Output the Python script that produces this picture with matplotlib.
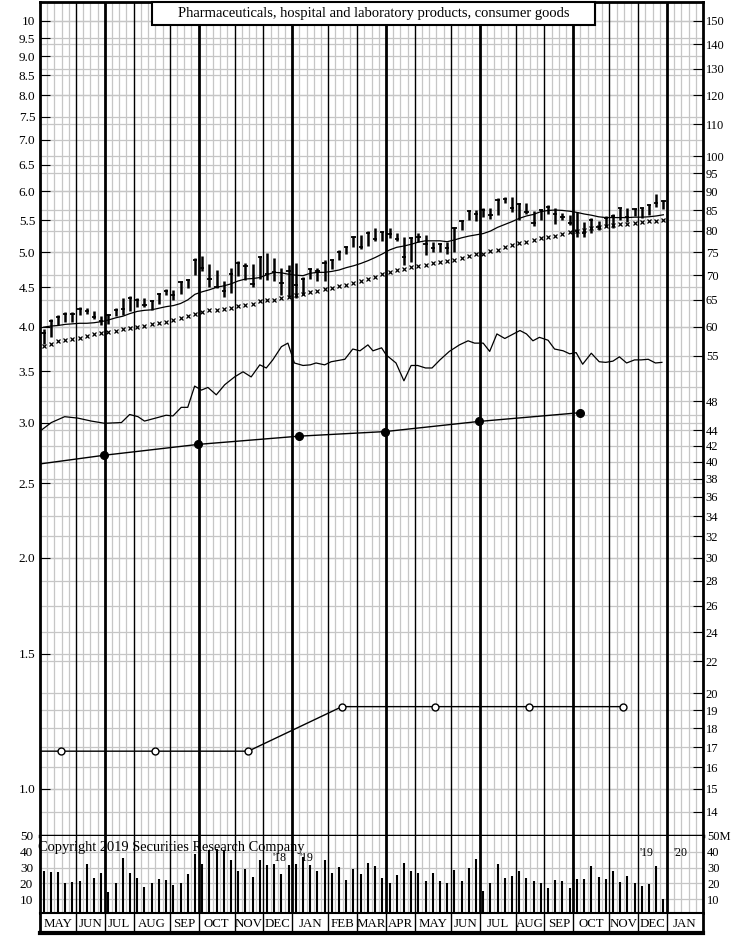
import numpy as np
import matplotlib
matplotlib.use('Agg')
import matplotlib.pyplot as plt
from matplotlib.patches import Rectangle
from matplotlib.ticker import NullLocator, NullFormatter

plt.rcParams['font.family'] = ['Liberation Serif', 'DejaVu Serif']

# weekly price bars (dollars, right-hand scale), May 2018 - Dec 2019
high = [59.6, 61.4, 62.1, 62.6, 62.6, 63.6, 63.4, 62.9, 62.0, 62.3,
        63.4, 65.4, 65.8, 65.4, 65.4, 65.0, 66.3, 67.2, 67.0, 68.8,
        69.2, 73.6, 74.1, 72.3, 71.1, 68.7, 71.5, 73.0, 72.7, 72.3,
        74.1, 74.9, 73.8, 71.5, 72.2, 72.7, 69.7, 71.6, 71.5, 73.3,
        73.5, 75.5, 76.5, 78.8, 79.0, 80.0, 80.6, 79.9, 80.7, 79.4,
        78.6, 78.6, 79.4, 79.0, 77.4, 77.0, 77.3, 81.0, 82.6, 85.1,
        85.1, 85.7, 85.5, 88.3, 88.6, 88.6, 86.8, 86.8, 84.9, 85.4,
        86.4, 85.5, 84.3, 83.8, 84.5, 82.0, 83.0, 82.4, 83.7, 84.0,
        85.5, 85.7, 85.7, 85.7, 86.6, 89.2, 87.7]
low = [56.9, 58.2, 60.2, 60.9, 60.8, 62.1, 62.3, 61.3, 60.3, 60.4,
       62.0, 62.1, 62.8, 63.7, 63.7, 63.1, 64.3, 66.0, 65.0, 66.1,
       67.3, 70.0, 70.8, 67.6, 67.3, 65.6, 66.3, 69.9, 69.0, 67.6,
       69.3, 69.0, 68.7, 66.0, 65.6, 65.4, 66.0, 69.2, 68.7, 68.7,
       71.3, 73.3, 74.5, 76.2, 75.7, 76.3, 77.6, 77.6, 78.2, 77.6,
       72.2, 72.9, 77.4, 74.4, 75.1, 75.1, 74.7, 75.1, 80.2, 82.6,
       82.4, 83.4, 82.8, 83.8, 86.8, 84.5, 82.6, 84.0, 81.2, 82.6,
       84.0, 81.5, 82.6, 81.4, 78.6, 78.6, 79.4, 80.2, 81.0, 80.7,
       82.6, 82.2, 83.7, 83.0, 83.8, 86.0, 85.4]
close = [58.8, 61.1, 61.7, 62.4, 62.4, 63.3, 62.9, 61.7, 61.1, 62.1,
         63.1, 63.3, 65.3, 65.0, 64.0, 64.7, 66.1, 66.8, 66.0, 68.5,
         69.0, 73.3, 71.5, 69.3, 67.6, 66.8, 70.2, 72.7, 72.0, 68.1,
         74.0, 70.2, 70.6, 68.3, 70.9, 68.0, 69.3, 71.3, 70.9, 72.5,
         73.3, 75.1, 76.1, 78.4, 76.2, 79.4, 78.0, 79.6, 79.1, 78.0,
         74.0, 78.3, 78.6, 76.8, 75.9, 76.8, 76.0, 80.7, 82.4, 84.9,
         84.0, 85.1, 83.8, 87.7, 88.0, 85.7, 86.6, 84.7, 81.8, 85.1,
         86.0, 84.0, 83.4, 81.8, 79.8, 79.4, 82.6, 81.0, 83.0, 83.7,
         85.5, 83.4, 85.4, 85.5, 86.4, 86.8, 87.4]
ma_short = [59.9, 60.1, 60.2, 60.4, 60.5, 60.6, 60.6, 60.7, 60.9, 61.2,
            61.6, 61.9, 62.4, 62.8, 63.0, 63.1, 63.4, 63.7, 63.9, 64.3,
            65.0, 66.1, 66.6, 67.0, 67.5, 67.8, 68.2, 68.8, 69.2, 69.3,
            69.5, 70.1, 70.6, 70.5, 70.2, 70.0, 69.9, 70.4, 70.6, 70.6,
            70.8, 71.1, 71.6, 72.0, 72.5, 73.1, 73.8, 74.6, 75.5, 76.1,
            76.4, 76.8, 77.3, 77.6, 77.6, 77.6, 77.4, 77.8, 78.3, 78.7,
            79.0, 79.3, 79.9, 80.8, 81.5, 82.2, 83.0, 83.6, 84.0, 84.7,
            85.0, 85.1, 85.0, 84.8, 84.5, 84.1, 83.8, 83.4, 83.2, 83.2,
            83.2, 83.2, 83.3, 83.3, 83.4, 83.6, 83.9]
ma_long = [56.6, 56.9, 57.4, 57.6, 57.8, 58.0, 58.4, 58.6, 58.9, 59.1,
           59.3, 59.5, 59.7, 59.9, 60.1, 60.4, 60.6, 60.9, 61.2, 61.6,
           61.9, 62.3, 62.6, 63.0, 63.1, 63.2, 63.4, 63.8, 64.1, 64.3,
           64.7, 64.9, 65.0, 65.3, 65.6, 66.0, 66.2, 66.5, 66.8, 67.1,
           67.4, 67.8, 68.0, 68.3, 68.8, 69.2, 69.7, 70.2, 70.6, 71.0,
           71.3, 71.7, 72.0, 72.2, 72.5, 72.9, 73.0, 73.3, 73.8, 74.1,
           74.5, 74.7, 75.3, 75.6, 76.2, 76.6, 77.0, 77.4, 77.8, 78.2,
           78.6, 78.8, 79.1, 79.6, 79.9, 80.2, 80.7, 81.0, 81.2, 81.4,
           81.6, 81.7, 81.9, 82.1, 82.3, 82.4, 82.6]
# weekly volume, millions of shares
volume = [28.0, 27.0, 27.0, 20.1, 20.9, 21.3, 32.1, 23.2, 26.8, 14.8,
          20.1, 35.9, 26.8, 23.2, 17.6, 20.1, 22.6, 22.2, 19.0, 20.1,
          26.0, 38.6, 32.3, 41.0, 42.0, 41.0, 35.0, 28.0, 29.0, 24.3,
          35.0, 31.4, 32.0, 26.0, 31.5, 32.0, 37.0, 31.6, 28.0, 34.8,
          26.8, 30.2, 22.2, 28.9, 26.0, 32.7, 31.0, 23.2, 20.5, 25.3,
          32.7, 28.0, 26.8, 21.5, 26.4, 21.7, 20.1, 28.5, 21.5, 29.6,
          35.2, 15.4, 20.5, 32.3, 23.2, 24.7, 27.9, 23.2, 21.5, 20.1,
          16.9, 22.2, 21.5, 16.9, 22.6, 22.8, 31.0, 24.3, 22.8, 27.9,
          21.1, 24.7, 20.1, 18.6, 19.5, 31.2, 10.2]

# relative strength line (week position, value on right scale)
rs_x = [0.2, 1.57, 3.42, 5.27, 7.12, 8.97, 11.3, 12.44, 13.6, 14.5,
        16.4, 17.5, 18.45, 19.6, 20.5, 21.46, 22.4, 23.3, 24.46, 25.63,
        27.0, 28.17, 29.3, 30.5, 31.4, 32.3, 33.5, 34.4, 35.3, 36.5,
        37.5, 38.3, 39.5, 40.4, 42.3, 43.4, 44.4, 45.5, 46.2, 47.4,
        48.05, 49.4, 50.5, 51.5, 52.4, 53.5, 54.4, 55.5, 56.8, 58.2,
        59.4, 60.3, 61.5, 62.4, 63.4, 64.5, 65.4, 66.6, 67.5, 68.4,
        69.3, 70.5, 71.4, 72.6, 73.5, 74.4, 75.3, 76.5, 77.6, 78.5,
        79.5, 80.4, 81.4, 82.5, 83.4, 84.4, 85.4, 86.3]
rs = [44.0, 45.0, 45.8, 45.6, 45.2, 44.9, 45.0, 46.1, 45.8, 45.2,
      45.7, 46.0, 45.9, 47.1, 47.1, 50.2, 49.6, 50.0, 48.9, 50.4,
      51.6, 52.4, 51.6, 53.5, 53.0, 54.3, 56.5, 57.1, 53.8, 53.4,
      53.5, 53.8, 53.5, 54.0, 54.4, 56.1, 55.8, 56.8, 55.8, 56.3,
      55.1, 53.8, 51.0, 53.4, 53.4, 53.0, 53.0, 54.3, 55.7, 56.8,
      57.5, 57.1, 57.1, 55.7, 58.7, 57.9, 58.5, 59.3, 58.7, 57.5,
      58.1, 57.6, 56.1, 55.8, 55.3, 55.5, 53.6, 55.4, 54.0, 53.9,
      54.1, 54.8, 53.8, 54.3, 54.3, 54.4, 53.8, 53.9]

# earnings (12-month, left scale) and annual dividend rate
eps_x = [0, 8.92, 21.97, 35.94, 47.9, 60.9, 74.9]
eps = [2.65, 2.72, 2.81, 2.88, 2.92, 3.01, 3.09]
div_x = [0, 2.9, 15.9, 28.9, 41.9, 54.85, 67.85, 80.85]
div = [1.12, 1.12, 1.12, 1.12, 1.28, 1.28, 1.28, 1.28]

months = ['MAY', 'JUN', 'JUL', 'AUG', 'SEP', 'OCT', 'NOV', 'DEC', 'JAN', 'FEB',
          'MAR', 'APR', 'MAY', 'JUN', 'JUL', 'AUG', 'SEP', 'OCT', 'NOV', 'DEC', 'JAN']
month_weeks = [5, 4, 4, 5, 4, 5, 4, 4, 5, 4, 4, 4, 5, 4, 5, 4, 4, 5, 4, 4, 5]

left_ticks = [10, 9.5, 9.0, 8.5, 8.0, 7.5, 7.0, 6.5, 6.0, 5.5, 5.0, 4.5, 4.0,
              3.5, 3.0, 2.5, 2.0, 1.5, 1.0]
left_labels = ['10', '9.5', '9.0', '8.5', '8.0', '7.5', '7.0', '6.5', '6.0', '5.5',
               '5.0', '4.5', '4.0', '3.5', '3.0', '2.5', '2.0', '1.5', '1.0']
right_ticks = [150, 140, 130, 120, 110, 100, 95, 90, 85, 80, 75, 70, 65, 60, 55,
               48, 44, 42, 40, 38, 36, 34, 32, 30, 28, 26, 24, 22, 20, 19, 18,
               17, 16, 15, 14]
right_grid_extra = [50, 46]
vol_ticks = [10, 20, 30, 40, 50]

W, H = 746, 936
TOP_L, BOT_L = 10.586, 0.8685   # left-scale limits
RATIO = 15.0
NWEEKS = sum(month_weeks)
GRAY = '#c6c6c6'


def box(x0, y0, x1, y1):
    return [x0 / W, 1 - y1 / H, (x1 - x0) / W, (y1 - y0) / H]


fig = plt.figure(figsize=(W / 100, H / 100), dpi=100)
ax = fig.add_axes(box(40, 2, 703, 836))
axv = fig.add_axes(box(40, 836, 703, 913))
axm = fig.add_axes(box(40, 913, 703, 933))

bounds = np.cumsum(month_weeks)[:-1]
quarter = [bounds[i] for i in range(len(bounds)) if months[i + 1] in ('JAN', 'APR', 'JUL', 'OCT')]
xc = np.arange(len(close)) + 0.5

for a in (ax, axv):
    a.set_xlim(0, NWEEKS)
    for k in range(1, NWEEKS):
        if k in quarter:
            a.axvline(k, color='k', lw=2.0, zorder=1)
        elif k in bounds:
            a.axvline(k, color='k', lw=1.0, zorder=1)
        else:
            a.axvline(k, color=GRAY, lw=0.9, zorder=0)
    a.set_xticks([])
    for s in a.spines.values():
        s.set_linewidth(2)

# price panel
ax.set_yscale('log')
ax.set_ylim(BOT_L, TOP_L)
for v in left_ticks:
    ax.axhline(v, color=GRAY, lw=0.9, zorder=0)
for v in right_ticks + right_grid_extra:
    ax.axhline(v / RATIO, color=GRAY, lw=0.9, zorder=0)
ax.set_yticks(left_ticks)
ax.set_yticklabels(left_labels)
ax.yaxis.set_minor_locator(NullLocator())
ax.yaxis.set_minor_formatter(NullFormatter())
ax.tick_params(axis='y', direction='in', length=7, width=0.8, pad=3.5, labelsize=9.5)
ax.spines['bottom'].set_linewidth(2.5)

ax.plot(eps_x, eps, color='k', lw=1.0, zorder=3)
ax.plot(eps_x[1:], eps[1:], 'o', color='k', ms=5.5, zorder=4)
ax.plot(div_x, div, color='k', lw=1.0, zorder=3)
ax.plot(div_x[1:], div[1:], 'o', mfc='white', mec='k', mew=1.0, ms=5, zorder=4)

ax2 = ax.twinx()
ax2.set_yscale('log')
ax2.set_ylim(BOT_L * RATIO, TOP_L * RATIO)
ax2.set_xlim(0, NWEEKS)
ax2.set_yticks(right_ticks)
ax2.set_yticklabels([str(v) for v in right_ticks])
ax2.yaxis.set_minor_locator(NullLocator())
ax2.yaxis.set_minor_formatter(NullFormatter())
ax2.tick_params(axis='y', direction='in', length=7, width=0.8, pad=2, labelsize=9)
for s in ax2.spines.values():
    s.set_visible(False)

ax2.vlines(xc, low, high, color='k', lw=1.8, zorder=5)
ax2.hlines(close, xc - 0.3, xc + 0.3, color='k', lw=1.3, zorder=5)
ax2.plot(xc, ma_short, color='k', lw=0.9, zorder=4)
ax2.plot(xc, ma_long, ls='none', marker='x', ms=3, mew=0.9, color='k', zorder=4)
ax2.plot(rs_x, rs, color='k', lw=0.9, zorder=4)

ax2.add_patch(Rectangle((0.1689, 0.9724), 0.6682, 0.0276, transform=ax2.transAxes,
                        fc='white', ec='k', lw=1.5, zorder=6, clip_on=False))
ax2.text(0.503, 0.9862, 'Pharmaceuticals, hospital and laboratory products, consumer goods',
         transform=ax2.transAxes, ha='center', va='center', fontsize=10.5, zorder=7)

# volume panel
axv.set_ylim(1.3, 50)
for v in vol_ticks[:-1]:
    axv.axhline(v, color=GRAY, lw=0.9, zorder=0)
axv.vlines(xc, 0, volume, color='k', lw=1.5, zorder=3)
axv.set_yticks(vol_ticks)
axv.set_yticklabels([str(v) for v in vol_ticks])
axv.tick_params(axis='y', length=0, pad=5, labelsize=9.5)
axv.spines['top'].set_visible(False)
axv.spines['bottom'].set_visible(False)
axv2 = axv.twinx()
axv2.set_ylim(1.3, 50)
axv2.set_yticks(vol_ticks)
axv2.set_yticklabels(['10', '20', '30', '40', '50M'])
axv2.tick_params(axis='y', length=0, pad=3, labelsize=9)
for s in axv2.spines.values():
    s.set_visible(False)

axv.text(-0.25, 43.0, 'Copyright 2019 Securities Research Company', ha='left', va='center',
         fontsize=10.4, zorder=6, clip_on=False)
for xp, yp, t in [(33.2, 36.1, "'18"), (37.0, 36.1, "'19"), (84.1, 39.2, "'19"), (88.9, 39.2, "'20")]:
    axv.text(xp, yp, t, ha='center', va='center', fontsize=8.5, zorder=6)

# month label strip
axm.set_xlim(0, NWEEKS)
axm.set_ylim(0, 1)
axm.set_xticks([])
axm.set_yticks([])
start = 0
for name, n in zip(months, month_weeks):
    axm.text(start + n / 2, 0.45, name, ha='center', va='center', fontsize=9.3)
    start += n
for b in bounds:
    axm.axvline(b, color='k', lw=1.0)
axm.spines['top'].set_linewidth(1.5)
axm.spines['bottom'].set_linewidth(3)
axm.spines['left'].set_linewidth(2)
axm.spines['right'].set_linewidth(2)

fig.savefig('out.png', dpi=100)
